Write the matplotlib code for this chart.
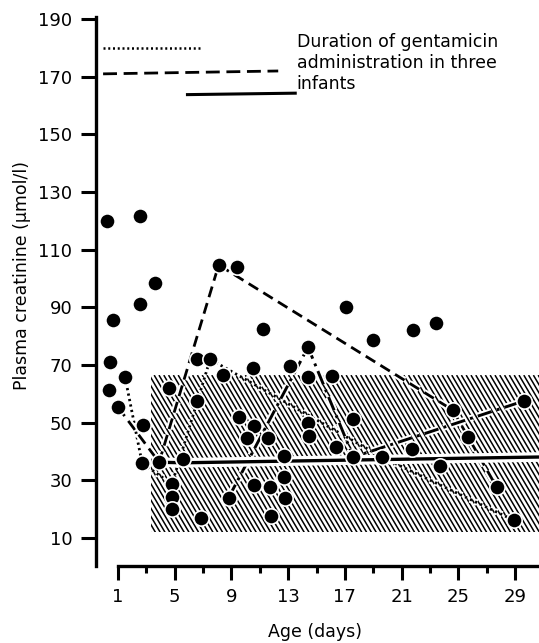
import matplotlib
matplotlib.use("Agg")
import matplotlib.pyplot as plt
import matplotlib.patheffects as pe
from matplotlib.patches import Rectangle
from matplotlib.collections import LineCollection
import numpy as np

# ---------------- data ----------------
# all measured points (age in days, plasma creatinine µmol/l)
pt_day = [0.2, 2.55, 3.6, 2.55, 0.65, 0.45, 1.5, 0.35, 1.0, 2.75,
          2.7, 3.9, 5.6, 4.6, 6.6, 6.6, 7.5, 8.4, 8.1, 9.4,
          10.5, 11.2, 13.1, 9.5, 10.6, 10.1, 11.6, 12.7, 12.7, 12.8,
          10.6, 11.7, 11.8, 8.8, 6.85, 4.8, 4.8, 4.8, 17.1, 19.0,
          21.8, 23.4, 14.4, 14.4, 16.1, 14.4, 14.5, 17.6, 16.4, 17.6,
          19.6, 21.7, 23.7, 24.6, 25.7, 27.7, 28.9, 29.6]
pt_val = [120.0, 121.7, 98.4, 91.2, 85.5, 71.2, 65.8, 61.3, 55.4, 49.3,
          36.0, 36.3, 37.4, 62.0, 57.5, 72.0, 72.0, 66.5, 104.7, 104.0,
          69.0, 82.5, 69.7, 52.0, 48.8, 44.7, 44.7, 38.6, 31.0, 23.9,
          28.4, 27.7, 17.6, 24.0, 17.0, 28.7, 24.2, 20.0, 90.0, 78.7,
          82.1, 84.6, 76.2, 65.8, 66.2, 49.9, 45.4, 51.3, 41.6, 38.1,
          38.1, 40.9, 35.0, 54.4, 45.0, 27.7, 16.2, 57.5]

# individual infants
dotted_day = [1.5, 2.7, 4.8, 6.6, 7.5, 19.6, 28.9]
dotted_val = [65.8, 36.0, 28.7, 57.5, 72.0, 38.1, 16.2]
dashed_day = [1.0, 3.9, 8.1, 24.6, 25.7, 27.7]
dashed_val = [55.4, 36.3, 104.7, 54.4, 45.0, 27.7]
dashdot_day = [8.8, 14.4, 17.6, 29.6]
dashdot_val = [24.0, 76.2, 38.1, 57.5]
solid_day = [3.9, 5.6, 30.7]
solid_val = [36.3, 36.1, 38.1]

# gentamicin duration bars (legend)
dur_dotted = ([-0.05, 6.9], [180.0, 180.0])
dur_dashed = ([-0.05, 12.3], [171.0, 172.0])
dur_solid = ([5.9, 13.5], [163.8, 164.3])

# normal range (hatched)
range_day = (3.3, 30.7)
range_val = (12.0, 66.5)

yticks = [10, 30, 50, 70, 90, 110, 130, 150, 170, 190]
xticks = [1, 5, 9, 13, 17, 21, 25, 29]
xminor = [3, 7, 11, 15, 19, 23, 27]

# ---------------- figure ----------------
W, H = 539, 643
fig = plt.figure(figsize=(W / 100, H / 100), dpi=100)
ax = fig.add_axes([96 / W, 77 / H, 443 / W, 549.8 / H])
ax.set_xlim(-0.55, 30.69)
ax.set_ylim(0.3, 191)

tickfont = ['Liberation Sans Narrow', 'DejaVu Sans']

for s in ['top', 'right']:
    ax.spines[s].set_visible(False)
ax.spines['left'].set_linewidth(2.4)
ax.spines['bottom'].set_linewidth(2.4)
ax.spines['left'].set_bounds(0.3, 190.6)
ax.spines['bottom'].set_bounds(1, 30.69)

ax.set_yticks(yticks)
ax.set_yticklabels([str(v) for v in yticks], family=tickfont, fontsize=13)
ax.set_xticks(xticks)
ax.set_xticklabels([str(v) for v in xticks], family=tickfont, fontsize=13)
ax.set_xticks(xminor, minor=True)
ax.tick_params(axis='y', direction='out', length=11, width=2.2, pad=6)
ax.tick_params(axis='x', which='major', direction='out', length=10, width=2.2, pad=6)
ax.tick_params(axis='x', which='minor', direction='out', length=5, width=2.2)

# hatched normal range: steep back-slash lines clipped to rectangle
x0, x1 = range_day
y0, y1 = range_val
rect = Rectangle((x0, y0), x1 - x0, y1 - y0, fill=False, edgecolor='none')
ax.add_patch(rect)
px_day, px_val = 14.18, 2.883
shift = (y1 - y0) * px_val / 1.7 / px_day   # horizontal run of a hatch line
step = 4.8 / px_day
segs = []
xs = x0 - shift
while xs < x1 + step:
    segs.append([(xs, y1), (xs + shift, y0)])
    xs += step
lc = LineCollection(segs, colors='black', linewidths=1.1, zorder=1)
ax.add_collection(lc)
lc.set_clip_path(rect)

halo = [pe.Stroke(linewidth=5, foreground='white'), pe.Normal()]

ax.plot(dotted_day, dotted_val, color='black', lw=2.0, ls=(0, (0.8, 1.2)),
        zorder=3, path_effects=halo)
ax.plot(dashed_day, dashed_val, color='black', lw=2.0, ls=(0, (4, 2.2)),
        zorder=3, path_effects=halo)
ax.plot(dashdot_day, dashdot_val, color='black', lw=2.1, ls=(0, (5, 1.8, 1, 1.8)),
        zorder=3, path_effects=halo)
ax.plot(solid_day, solid_val, color='black', lw=2.4, ls='-',
        zorder=3, path_effects=[pe.Stroke(linewidth=7, foreground='white'), pe.Normal()])

ax.plot(pt_day, pt_val, ls='none', marker='o', ms=11, mfc='black',
        mec='white', mew=1.2, zorder=5)

# duration legend
ax.plot(*dur_dotted, color='black', lw=1.8, ls=(0, (0.8, 1.1)), clip_on=False)
ax.plot(*dur_dashed, color='black', lw=2.0, ls=(0, (5, 2.4)), clip_on=False)
ax.plot(*dur_solid, color='black', lw=2.2, ls='-', clip_on=False)
ax.text(13.6, 185.0, "Duration of gentamicin\nadministration in three\ninfants",
        ha='left', va='top', fontsize=12.5, family='DejaVu Sans')

fig.text(22 / W, 1 - 276 / H, "Plasma creatinine (µmol/l)", rotation=90,
         ha='center', va='center', fontsize=12.5, family='DejaVu Sans')
fig.text(315 / W, 1 - 632 / H, "Age (days)", ha='center', va='center',
         fontsize=12.5, family='DejaVu Sans')

fig.savefig("out.png", dpi=100)
